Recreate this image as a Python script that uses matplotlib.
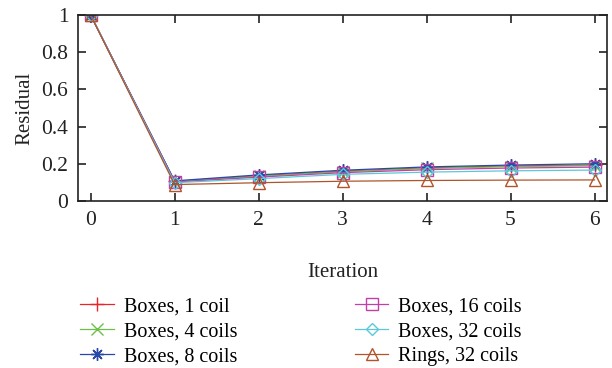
import matplotlib
matplotlib.use("Agg")
import matplotlib.pyplot as plt

# Data
iterations = [0, 1, 2, 3, 4, 5, 6]
labels = ["Boxes, 1 coil", "Boxes, 4 coils", "Boxes, 8 coils",
          "Boxes, 16 coils", "Boxes, 32 coils", "Rings, 32 coils"]
boxes_1 = [1.0, 0.105, 0.135, 0.160, 0.178, 0.188, 0.193]
boxes_4 = [1.0, 0.104, 0.133, 0.158, 0.175, 0.185, 0.190]
boxes_8 = [1.0, 0.108, 0.140, 0.165, 0.183, 0.193, 0.200]
boxes_16 = [1.0, 0.102, 0.128, 0.152, 0.168, 0.177, 0.182]
boxes_32 = [1.0, 0.098, 0.120, 0.143, 0.155, 0.162, 0.166]
rings_32 = [1.0, 0.088, 0.098, 0.106, 0.110, 0.112, 0.113]

series = [boxes_1, boxes_4, boxes_8, boxes_16, boxes_32, rings_32]
colors = ["#e8242c", "#6cc04a", "#2a48a8", "#c040a8", "#5cc8d8", "#b0542a"]
markers = ["+", "x", (8, 2, 0), "s", "D", "^"]
sizes = [10, 8, 9, 8, 6, 9]

plt.rcParams['font.family'] = ['Liberation Serif', 'DejaVu Serif']
plt.rcParams['font.size'] = 14.5
text_color = '#222222'

fig = plt.figure(figsize=(6.12, 3.68), dpi=100)
ax = fig.add_axes([0.1275, 0.454, 0.8645, 0.505])

for vals, lab, c, m, s in zip(series, labels, colors, markers, sizes):
    ax.plot(iterations, vals, color=c, marker=m, markersize=s, linewidth=0.9,
            markerfacecolor='none', markeredgecolor=c, markeredgewidth=1.0, label=lab)

ax.set_xlim(-0.15, 6.15)
ax.set_ylim(0, 1)
ax.set_xticks(iterations)
ax.set_yticks([0, 0.2, 0.4, 0.6, 0.8, 1])
ax.set_yticklabels(["0", "0.2", "0.4", "0.6", "0.8", "1"])
ax.tick_params(direction='in', top=True, right=True, length=6, width=1.2,
               labelsize=15.5, colors=text_color, pad=7)
for sp in ax.spines.values():
    sp.set_linewidth(1.2)
    sp.set_color(text_color)
ax.set_xlabel("Iteration", fontsize=15, color=text_color, labelpad=24)
ax.set_ylabel("Residual", fontsize=15, color=text_color, labelpad=5)

fig.legend(loc='upper left', bbox_to_anchor=(0.115, 0.22), ncol=2, frameon=False,
           fontsize=14.5, handlelength=1.65, columnspacing=5.85, labelspacing=0.3,
           handletextpad=0.5, borderpad=0)

fig.savefig("out.png", dpi=100)
